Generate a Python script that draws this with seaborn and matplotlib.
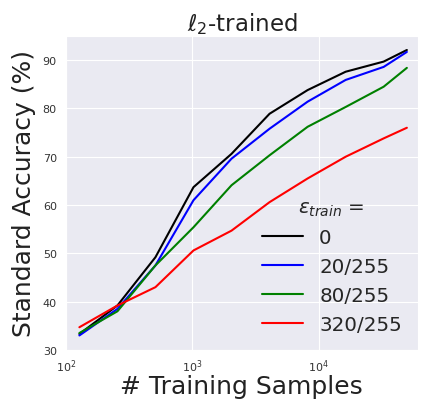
import matplotlib
matplotlib.use("Agg")
import matplotlib.pyplot as plt
import seaborn as sns
import pandas as pd
import numpy as np

samples = [128, 256, 512, 1024, 2048, 4096, 8192, 16384, 32768, 50000]
acc_0 = [33.3, 39.2, 49.2, 63.7, 70.6, 78.9, 83.8, 87.6, 89.7, 92.1]
acc_20 = [33.0, 38.5, 47.5, 61.0, 69.6, 75.8, 81.4, 85.9, 88.6, 91.7]
acc_80 = [33.5, 38.0, 47.5, 55.4, 64.1, 70.3, 76.2, 80.3, 84.5, 88.4]
acc_320 = [34.7, 39.2, 43.0, 50.6, 54.7, 60.6, 65.5, 70.0, 73.8, 76.0]
labels = ["0", "20/255", "80/255", "320/255"]
colors = ["k", "b", "g", "r"]

rows = []
for lab, vals in zip(labels, [acc_0, acc_20, acc_80, acc_320]):
    for s, v in zip(samples, vals):
        rows.append({"samples": s, "acc": v, "eps": lab})
df = pd.DataFrame(rows)

sns.set_style("darkgrid")
plt.rcParams['font.family'] = ['DejaVu Sans']

fig = plt.figure(figsize=(4.22, 4.02), dpi=100)
ax = fig.add_axes([0.156, 0.127, 0.834, 0.781])
sns.lineplot(data=df, x="samples", y="acc", hue="eps", palette=dict(zip(labels, colors)),
             hue_order=labels, ax=ax, linewidth=1.5)
ax.set_xscale("log")
ax.set_xlim(100, 61000)
ax.set_ylim(30, 95)
ax.set_yticks([30, 40, 50, 60, 70, 80, 90])
ax.tick_params(axis='x', labelsize=8, pad=2, colors='#333333')
ax.tick_params(axis='y', labelsize=8, pad=3, colors='#333333')
ax.set_xlabel("# Training Samples", fontsize=18, color='#222222', labelpad=0)
ax.set_ylabel("Standard Accuracy (%)", fontsize=18, color='#222222', labelpad=5)
ax.set_title(r"$\ell_2$-trained", fontsize=16.5, color='#222222', pad=4)
leg = ax.legend(title=r"$\epsilon_{train}$ =", loc="lower right", frameon=False,
                fontsize=14.3, title_fontsize=14.3, handlelength=2.1,
                borderaxespad=0.4)
fig.savefig("out.png", dpi=100)
